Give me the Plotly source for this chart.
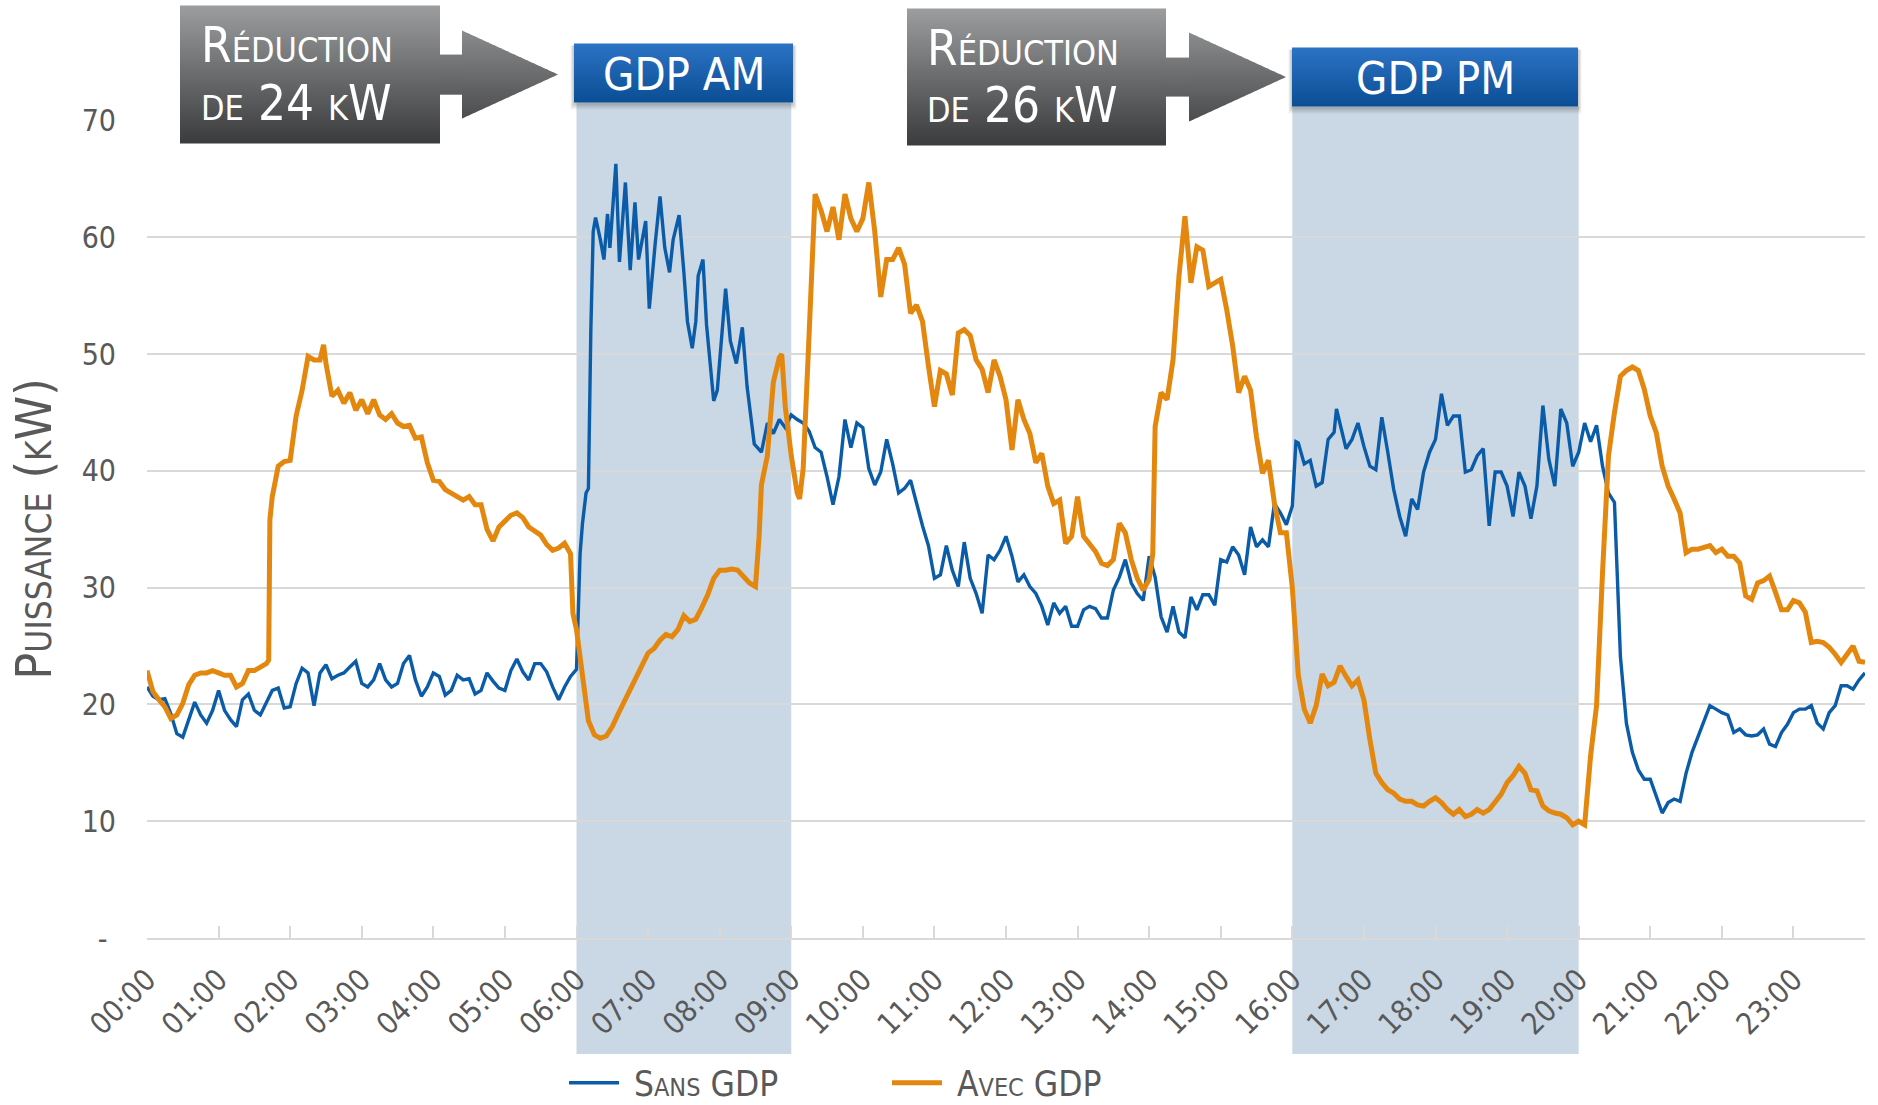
import plotly.graph_objects as go

# ---------------- data ----------------
hours = ['00:00', '01:00', '02:00', '03:00', '04:00', '05:00', '06:00', '07:00',
         '08:00', '09:00', '10:00', '11:00', '12:00', '13:00', '14:00', '15:00',
         '16:00', '17:00', '18:00', '19:00', '20:00', '21:00', '22:00', '23:00']
y_ticks = [0, 10, 20, 30, 40, 50, 60, 70]
y_ticktext = ['-\u00a0', '10', '20', '30', '40', '50', '60', '70']

# minutes after midnight / kW -- "Sans GDP"
sans_min = [0, 5, 10, 15, 20, 25, 30, 35, 40, 45, 50, 55,
            60, 65, 70, 75, 80, 85, 90, 95, 100, 105, 110, 115,
            120, 125, 130, 135, 140, 145, 150, 155, 160, 165, 170, 175,
            180, 185, 190, 195, 200, 205, 210, 215, 220, 225, 230, 235,
            240, 245, 250, 255, 260, 265, 270, 275, 280, 285, 290, 295,
            300, 305, 310, 315, 320, 325, 330, 335, 340, 345, 350, 355,
            360, 363, 365, 368, 370, 372, 374, 376, 380, 383, 386, 388, 393, 396,
            401, 405, 409, 412, 418, 421, 426, 430, 434, 438, 441, 446, 450, 453,
            457, 460, 462, 466, 469, 475, 478, 485, 489, 494, 499, 503, 509, 515,
            520, 525, 530, 535, 540, 545, 550, 555, 560, 565, 570, 575,
            580, 585, 590, 595, 600, 605, 610, 615, 620, 625, 630, 635,
            640, 645, 650, 655, 660, 665, 670, 675, 680, 685, 690, 695,
            700, 705, 710, 715, 720, 725, 730, 735, 740, 745, 750, 755,
            760, 765, 770, 775, 780, 785, 790, 795, 800, 805, 810, 815,
            820, 825, 830, 835, 840, 845, 850, 855, 860, 865, 870, 875,
            880, 885, 890, 895, 900, 905, 910, 915, 920, 925, 930, 935,
            940, 945, 950, 955, 960, 963, 965, 970, 975, 980, 985, 990, 995, 997,
            1000, 1005, 1010, 1015, 1020, 1025, 1030, 1035, 1040, 1045, 1050, 1055,
            1060, 1065, 1070, 1075, 1080, 1085, 1090, 1095, 1100, 1105, 1110, 1115,
            1120, 1125, 1130, 1135, 1140, 1145, 1150, 1155, 1160, 1165, 1170, 1175,
            1180, 1185, 1190, 1195, 1200, 1205, 1210, 1215, 1220, 1225, 1230, 1235,
            1240, 1245, 1250, 1255, 1260, 1265, 1270, 1275, 1280, 1285, 1290, 1295,
            1300, 1305, 1310, 1315, 1320, 1325, 1330, 1335, 1340, 1345, 1350, 1355,
            1360, 1365, 1370, 1375, 1380, 1385, 1390, 1395, 1400, 1405, 1410, 1415,
            1420, 1425, 1430, 1435, 1440]
sans_kw = [21.5, 20.7, 20.4, 20.5, 19.2, 17.5, 17.2, 18.8, 20.2, 19.1, 18.4, 19.5,
           21.2, 19.5, 18.7, 18.1, 20.4, 20.9, 19.5, 19.1, 20.1, 21.2, 21.4, 19.7,
           19.8, 21.8, 23.1, 22.7, 19.9, 22.7, 23.4, 22.2, 22.5, 22.7, 23.2, 23.7,
           21.8, 21.5, 22.1, 23.5, 22.1, 21.5, 21.8, 23.5, 24.2, 22.1, 20.7, 21.5,
           22.7, 22.4, 20.8, 21.2, 22.5, 22.1, 22.2, 20.9, 21.2, 22.7, 22.0, 21.4,
           21.2, 22.9, 23.9, 22.8, 22.1, 23.5, 23.5, 22.8, 21.5, 20.4, 21.5, 22.4,
           23.0, 32.9, 35.5, 38.1, 38.5, 52.0, 60.5, 61.7, 59.8, 58.1, 62.0, 59.1, 66.3, 57.9,
           64.7, 57.2, 63.0, 58.1, 61.4, 53.9, 59.5, 63.5, 59.1, 57.0, 59.8, 61.9, 57.0, 52.8,
           50.5, 52.8, 56.7, 58.1, 52.5, 46.0, 46.9, 55.6, 51.1, 49.2, 52.3, 47.2, 42.3, 41.6,
           44.1, 43.2, 44.4, 43.7, 44.8, 44.4, 44.1, 43.4, 42.0, 41.6, 39.5, 37.1,
           39.5, 44.4, 42.0, 44.1, 43.7, 40.2, 38.8, 39.9, 42.7, 40.6, 38.1, 38.5,
           39.2, 37.1, 35.3, 33.6, 30.8, 31.1, 33.6, 31.5, 30.1, 33.9, 30.8, 29.5,
           27.8, 32.8, 32.4, 33.2, 34.4, 32.7, 30.5, 31.1, 30.1, 29.5, 28.4, 26.8,
           28.7, 27.8, 28.4, 26.7, 26.7, 28.1, 28.4, 28.2, 27.4, 27.4, 29.8, 30.9,
           32.4, 30.4, 29.5, 28.9, 32.7, 30.9, 27.5, 26.2, 28.4, 26.2, 25.7, 29.2,
           28.1, 29.4, 29.4, 28.5, 32.4, 32.2, 33.5, 32.8, 31.1, 35.2, 33.5, 34.1,
           33.5, 37.2, 36.4, 35.4, 37.0, 42.5, 42.4, 40.6, 40.9, 38.7, 39.0, 42.7, 43.3, 45.3,
           44.1, 41.9, 42.7, 44.1, 42.1, 40.4, 40.1, 44.6, 41.6, 38.4, 36.1, 34.4,
           37.6, 36.7, 39.9, 41.6, 42.7, 46.6, 43.9, 44.7, 44.7, 39.9, 40.1, 41.3,
           41.9, 35.3, 39.9, 39.9, 38.7, 36.1, 39.9, 38.7, 35.9, 38.7, 45.6, 41.0,
           38.7, 45.3, 44.1, 40.4, 41.6, 44.1, 42.5, 43.9, 40.4, 38.1, 37.3, 24.1,
           18.4, 15.9, 14.4, 13.6, 13.6, 12.1, 10.7, 11.6, 11.9, 11.7, 14.1, 15.9,
           17.3, 18.7, 19.9, 19.6, 19.3, 19.1, 17.6, 17.9, 17.4, 17.3, 17.4, 17.9,
           16.6, 16.4, 17.6, 18.3, 19.3, 19.6, 19.6, 19.9, 18.4, 17.9, 19.3, 19.9,
           21.6, 21.6, 21.3, 22.1, 22.7]

# minutes after midnight / kW -- "Avec GDP"
avec_min = [0, 5, 10, 15, 20, 25, 30, 35, 40, 45, 50, 55,
            60, 65, 70, 75, 80, 85, 90, 95, 100, 102, 103, 105, 110, 115,
            120, 125, 130, 135, 140, 145, 148, 150, 155, 160, 165, 170, 175,
            180, 185, 190, 195, 200, 205, 210, 215, 220, 225, 230, 235,
            240, 245, 250, 255, 260, 265, 270, 275, 280, 285, 290, 295,
            300, 305, 310, 315, 320, 325, 330, 335, 340, 345, 350, 355, 357,
            360, 365, 370, 375, 380, 385, 390, 395, 400, 405, 410, 415,
            420, 425, 430, 435, 440, 445, 450, 455, 460, 465, 470, 475,
            480, 485, 490, 495, 500, 505, 510, 513, 515, 520, 525, 530, 532, 535,
            540, 545, 547, 550, 555, 560, 565, 570, 575, 580, 585, 590, 595,
            600, 605, 610, 615, 620, 625, 630, 635, 640, 645, 650, 655,
            660, 665, 670, 675, 680, 685, 690, 695, 700, 705, 710, 715,
            720, 725, 730, 735, 740, 745, 750, 755, 760, 765, 770, 775,
            780, 785, 790, 795, 800, 805, 810, 815, 820, 825, 830, 835,
            840, 843, 845, 850, 855, 860, 865, 870, 875, 880, 885, 890, 895,
            900, 905, 910, 915, 920, 925, 930, 935, 940, 945, 950, 955,
            960, 965, 970, 975, 980, 985, 990, 995, 1000, 1005, 1010, 1015,
            1020, 1025, 1030, 1035, 1040, 1045, 1050, 1055, 1060, 1065, 1070, 1075,
            1080, 1085, 1090, 1095, 1100, 1105, 1110, 1115, 1120, 1125, 1130, 1135,
            1140, 1145, 1150, 1155, 1160, 1165, 1170, 1175, 1180, 1185, 1190, 1195,
            1200, 1205, 1210, 1215, 1220, 1225, 1230, 1235, 1240, 1245, 1250, 1255,
            1260, 1265, 1270, 1275, 1280, 1285, 1290, 1295, 1300, 1305, 1310, 1315,
            1320, 1325, 1330, 1335, 1340, 1345, 1350, 1355, 1360, 1365, 1370, 1375,
            1380, 1385, 1390, 1395, 1400, 1405, 1410, 1415, 1420, 1425, 1430, 1435,
            1440]
avec_kw = [22.9, 21.1, 20.4, 19.8, 18.8, 19.1, 20.1, 21.7, 22.5, 22.7, 22.7, 22.9,
           22.7, 22.5, 22.5, 21.5, 21.8, 22.9, 22.9, 23.2, 23.5, 23.8, 35.8, 37.8, 40.4, 40.8,
           40.9, 44.7, 46.9, 49.8, 49.5, 49.5, 50.8, 49.2, 46.4, 46.9, 45.8, 46.7, 45.2,
           46.1, 44.9, 46.1, 44.8, 44.4, 44.9, 44.1, 43.8, 43.9, 42.8, 42.9, 40.7,
           39.2, 39.1, 38.4, 38.1, 37.7, 37.5, 37.8, 37.1, 37.1, 35.0, 34.0, 35.2,
           35.7, 36.2, 36.4, 36.0, 35.2, 34.8, 34.5, 33.7, 33.2, 33.4, 33.8, 32.9, 27.8,
           26.4, 22.2, 18.6, 17.4, 17.1, 17.3, 18.1, 19.2, 20.2, 21.3, 22.3, 23.4,
           24.4, 24.8, 25.5, 26.0, 25.8, 26.4, 27.6, 27.1, 27.3, 28.3, 29.4, 30.8,
           31.5, 31.5, 31.6, 31.5, 30.9, 30.4, 30.1, 34.3, 38.8, 41.3, 47.6, 49.7, 50.0, 45.5,
           41.3, 38.1, 37.6, 40.2, 51.8, 63.7, 62.3, 60.5, 62.6, 59.8, 63.7, 61.6, 60.5,
           61.6, 64.7, 60.5, 54.9, 58.1, 58.1, 59.1, 57.7, 53.5, 54.2, 52.8, 49.0,
           45.5, 48.6, 48.3, 46.5, 51.8, 52.1, 51.6, 49.5, 48.7, 46.7, 49.5, 48.1,
           46.1, 41.8, 46.1, 44.4, 43.2, 40.7, 41.5, 38.7, 37.2, 37.5, 33.8, 34.4,
           37.8, 34.4, 33.8, 33.1, 32.1, 31.9, 32.4, 35.5, 34.7, 32.4, 30.8, 29.8,
           30.7, 32.9, 43.8, 46.7, 46.1, 49.5, 56.7, 61.8, 56.1, 59.2, 58.9, 55.8, 56.1,
           56.4, 53.8, 50.7, 46.7, 48.1, 46.9, 42.9, 39.8, 40.9, 37.2, 34.7, 34.7,
           30.0, 22.5, 19.6, 18.4, 19.9, 22.6, 21.6, 21.9, 23.3, 22.4, 21.6, 22.1,
           20.4, 17.0, 14.1, 13.3, 12.7, 12.4, 11.9, 11.7, 11.7, 11.4, 11.3, 11.7,
           12.0, 11.6, 11.0, 10.6, 11.0, 10.4, 10.6, 11.0, 10.7, 11.0, 11.6, 12.3,
           13.3, 13.9, 14.7, 14.1, 12.7, 12.6, 11.3, 10.9, 10.7, 10.6, 10.3, 9.7,
           10.0, 9.7, 15.6, 19.9, 31.3, 41.3, 45.0, 48.1, 48.6, 48.9, 48.6, 47.0,
           44.7, 43.3, 40.4, 38.7, 37.6, 36.4, 33.0, 33.3, 33.3, 33.4, 33.6, 33.0,
           33.3, 32.7, 32.7, 32.1, 29.3, 29.0, 30.4, 30.6, 31.0, 29.6, 28.1, 28.1,
           28.9, 28.7, 27.9, 25.3, 25.4, 25.3, 24.9, 24.3, 23.6, 24.3, 25.0, 23.7,
           23.6]

# GDP periods (minutes)
gdp_am = (360, 540)
gdp_pm = (960, 1200)

# ---------------- styling ----------------
FONT = "'Liberation Sans Narrow', 'Arial Narrow', 'DejaVu Sans Condensed', Roboto, sans-serif"
GREY_TXT = '#595959'
BLUE = '#0b5ca8'
ORANGE = '#e3870f'
BAND = '#cad7e4'

# pixel -> paper helpers (plot area spans x 147..1865, y 120..938)
def px(x):
    return (x - 147) / 1718

def py(y):
    return (938 - y) / 817.6


def mix(c0, c1, t):
    t = max(0, min(1, t))
    a = [int(c0[i:i + 2], 16) for i in (1, 3, 5)]
    b = [int(c1[i:i + 2], 16) for i in (1, 3, 5)]
    return 'rgb(%d,%d,%d)' % tuple(round(a[k] + (b[k] - a[k]) * t) for k in range(3))


def grad_rect(x0, x1, y0, y1, top, bottom, g0, g1, step=3):
    out = []
    y = y0
    while y < y1:
        yb = min(y + step, y1)
        t = ((y + yb) / 2 - g0) / (g1 - g0)
        out.append(dict(type='rect', xref='paper', yref='paper',
                        x0=px(x0), x1=px(x1), y0=py(min(yb + 0.7, y1)), y1=py(y),
                        fillcolor=mix(top, bottom, t), line=dict(width=0), layer='above'))
        y = yb
    return out


def grad_triangle(xb, xt, ytop, ybot, top, bottom, g0, g1, step=3):
    out = []
    yc = (ytop + ybot) / 2
    half = (ybot - ytop) / 2

    def xr(y):
        return xb + (xt - xb) * (1 - abs(y - yc) / half)

    y = ytop
    while y < ybot:
        yb = min(y + step + 0.7, ybot)
        pts = [(xb, y), (xr(y), y)]
        if y < yc < yb:
            pts.append((xt, yc))
        pts += [(xr(yb), yb), (xb, yb)]
        path = 'M' + 'L'.join('%.5f,%.5f' % (px(a), py(b)) for a, b in pts) + 'Z'
        t = ((y + yb) / 2 - g0) / (g1 - g0)
        out.append(dict(type='path', xref='paper', yref='paper', path=path,
                        fillcolor=mix(top, bottom, t), line=dict(width=0), layer='above'))
        y = min(y + step, ybot)
    return out


def grey_arrow(bx0, bx1, by0, by1, cy0, cy1, tx0, tx1, ty0, ty1):
    top, bottom = '#9c9d9f', '#3a3b3d'
    s = grad_rect(bx0, bx1, by0, by1, top, bottom, by0, by1)
    s += grad_rect(bx1 - 1, tx0 + 1, cy0, cy1, top, bottom, by0, by1)
    s += grad_triangle(tx0, tx1, ty0, ty1, top, bottom, by0, by1)
    return s


def blue_box(x0, x1, y0, y1):
    s = []
    for k, a in ((7, 0.05), (5, 0.07), (3, 0.09)):
        s.append(dict(type='rect', xref='paper', yref='paper',
                      x0=px(x0 - k / 2), x1=px(x1 + k / 2), y0=py(y1 + k), y1=py(y0 + 2),
                      fillcolor='rgba(0,0,0,%.2f)' % a, line=dict(width=0), layer='above'))
    s += grad_rect(x0, x1, y0, y1, '#2c73c5', '#0a4e94', y0, y1)
    return s


shapes = []
# GDP bands
for (m0, m1), top_px in ((gdp_am, 103), (gdp_pm, 107)):
    shapes.append(dict(type='rect', xref='x', yref='paper', x0=m0, x1=m1,
                       y0=py(1054), y1=py(top_px), fillcolor=BAND,
                       line=dict(width=0), layer='below'))
shapes += grey_arrow(180, 440, 6, 144, 55, 95, 462, 558, 31, 119)
shapes += grey_arrow(907, 1166, 9, 146, 58, 97, 1189, 1286, 33, 122)
shapes += blue_box(574, 793, 44, 103)
shapes += blue_box(1292, 1578, 48, 107)

annotations = []
for x_left, y1, y2, txt in ((199, 46, 104, 'de 24 kW'), (925, 49, 106, 'de 26 kW')):
    annotations.append(dict(text='Réduction', x=px(x_left), y=py(y1), xref='paper', yref='paper',
                            xanchor='left', yanchor='middle', showarrow=False,
                            font=dict(family=FONT, size=49, color='white', variant='small-caps')))
    annotations.append(dict(text=txt, x=px(x_left), y=py(y2), xref='paper', yref='paper',
                            xanchor='left', yanchor='middle', showarrow=False,
                            font=dict(family=FONT, size=49, color='white', variant='small-caps')))
for xc, yc, txt in ((684, 75, 'GDP AM'), (1435, 79, 'GDP PM')):
    annotations.append(dict(text=txt, x=px(xc), y=py(yc), xref='paper', yref='paper',
                            xanchor='center', yanchor='middle', showarrow=False,
                            font=dict(family=FONT, size=45, color='white')))

fig = go.Figure()
fig.add_trace(go.Scatter(x=sans_min, y=sans_kw, name='\u00a0Sans GDP', mode='lines',
                         line=dict(color=BLUE, width=3.4)))
fig.add_trace(go.Scatter(x=avec_min, y=avec_kw, name='\u00a0Avec GDP', mode='lines',
                         line=dict(color=ORANGE, width=5)))

fig.update_layout(
    width=1878, height=1105,
    margin=dict(l=147, r=13, t=120, b=167, autoexpand=False),
    paper_bgcolor='white', plot_bgcolor='white',
    font=dict(family=FONT, color=GREY_TXT),
    shapes=shapes,
    annotations=annotations,
    showlegend=True,
    legend=dict(orientation='h', x=px(564), y=py(1083), xanchor='left', yanchor='middle',
                font=dict(family=FONT, size=35, color=GREY_TXT, variant='small-caps'),
                entrywidth=258, entrywidthmode='pixels', itemwidth=50,
                bgcolor='rgba(0,0,0,0)'),
    xaxis=dict(range=[0, 1440], tickvals=[60 * i for i in range(len(hours))], ticktext=hours,
               tickangle=-45, tickfont=dict(family=FONT, size=30, color=GREY_TXT),
               ticks='inside', ticklen=12, tickwidth=2, tickcolor='#d9d9d9',
               showline=True, linecolor='#d9d9d9', linewidth=2, showgrid=False,
               zeroline=False, ticklabelstandoff=10, automargin=False),
    yaxis=dict(range=[0, 70.05], tickvals=y_ticks, ticktext=y_ticktext,
               tickfont=dict(family=FONT, size=30, color=GREY_TXT),
               showgrid=True, gridcolor='#d9d9d9', gridwidth=1.5,
               showline=False, zeroline=False, ticks='', ticklabelstandoff=30,
               automargin=False,
               title=dict(text='Puissance (kW)', standoff=14,
                          font=dict(family=FONT, size=50, color=GREY_TXT, variant='small-caps'))),
)

fig.write_html("out.html", config={'displayModeBar': False},
               post_script="document.body.style.margin='0';document.body.style.overflow='hidden';")
